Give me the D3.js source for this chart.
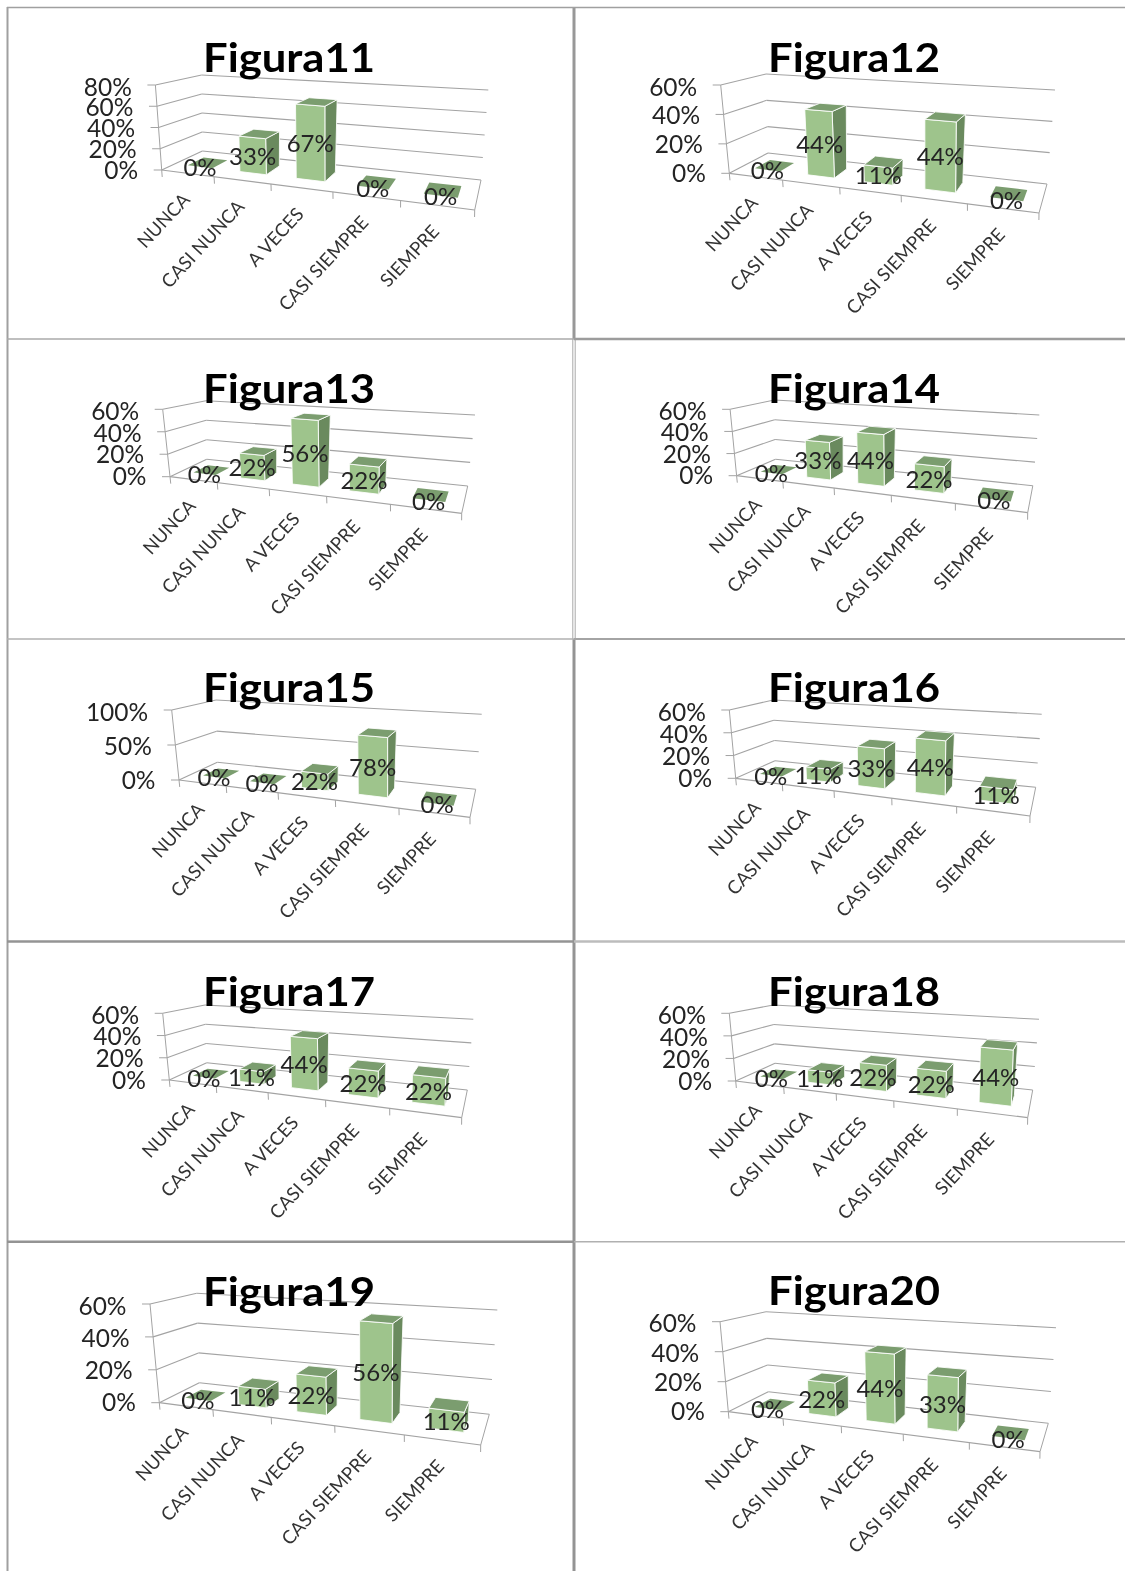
<!DOCTYPE html>
<html><head><meta charset="utf-8">
<script src="https://cdn.jsdelivr.net/npm/d3@7"></script>
<style>
html,body{margin:0;padding:0;background:#fff}
svg{display:block;filter:blur(0.45px)}
text{font-family:Lato,"Open Sans",sans-serif}
</style></head><body><div id="c"></div>
<script>
const categories = ["NUNCA","CASI NUNCA","A VECES","CASI SIEMPRE","SIEMPRE"];
const figura11 = [0,33,67,0,0];
const figura12 = [0,44,11,44,0];
const figura13 = [0,22,56,22,0];
const figura14 = [0,33,44,22,0];
const figura15 = [0,0,22,78,0];
const figura16 = [0,11,33,44,11];
const figura17 = [0,11,44,22,22];
const figura18 = [0,11,22,22,44];
const figura19 = [0,11,22,56,11];
const figura20 = [0,22,44,33,0];
const ticks80 = [0,20,40,60,80];
const ticks60 = [0,20,40,60];
const ticks100 = [0,50,100];

// frame corners of each picture of a 3-D chart (A front-left, B back-left, C front-right, D back-right, T* wall tops)
const panels = [
 {t:"Figura11",v:figura11,yt:ticks80, k:.06, tx:289,ty:72, A:[161.7,170],TA:[155.4,85],B:[202.4,151],TB:[201.6,75],D:[481,180],TD:[488.3,90],C:[474.7,210]},
 {t:"Figura12",v:figura12,yt:ticks60, k:.01, tx:854,ty:72, A:[729.3,173.3],TA:[720.7,85],B:[768,153],TB:[766,74],D:[1047,184],TD:[1055,90],C:[1039,213]},
 {t:"Figura13",v:figura13,yt:ticks60, k:.02, tx:289,ty:403, A:[170,476.7],TA:[162.7,409.3],B:[206.7,459.3],TB:[206,400.7],D:[467.7,486],TD:[475,415],C:[461.7,513.3]},
 {t:"Figura14",v:figura14,yt:ticks60, k:.02, tx:854,ty:403, A:[736.6,475.7],TA:[730.1,409.3],B:[775.5,459.3],TB:[774.4,400],D:[1032.8,485.7],TD:[1039.3,415],C:[1027.7,512.7]},
 {t:"Figura15",v:figura15,yt:ticks100,k:.02, tx:289,ty:702, A:[179,780],TA:[171.7,710],B:[217.3,762.3],TB:[216,700],D:[475.7,789.3],TD:[481.7,714.3],C:[470,817.3]},
 {t:"Figura16",v:figura16,yt:ticks60, k:.02, tx:854,ty:702, A:[735.7,778.3],TA:[729.3,710],B:[775,760.7],TB:[773.3,700],D:[1035.7,787.3],TD:[1041.7,714.3],C:[1030,816]},
 {t:"Figura17",v:figura17,yt:ticks60, k:.02, tx:289,ty:1006, A:[169.3,1080],TA:[162.7,1013.3],B:[206.7,1062.7],TB:[205,1005],D:[467.3,1090],TD:[473.3,1019.3],C:[461.7,1117.7]},
 {t:"Figura18",v:figura18,yt:ticks60, k:.02, tx:854,ty:1006, A:[735.7,1081],TA:[729.3,1013.3],B:[775,1063.3],TB:[773.3,1005],D:[1032.7,1090],TD:[1039,1019.3],C:[1027.7,1117.7]},
 {t:"Figura19",v:figura19,yt:ticks60, k:.04, tx:289,ty:1306, A:[159.3,1402.7],TA:[150,1304],B:[199.3,1382.7],TB:[196.7,1293.3],D:[489.3,1414.3],TD:[497.3,1310],C:[480.7,1445]},
 {t:"Figura20",v:figura20,yt:ticks60, k:.02, tx:854,ty:1305, A:[728.3,1411.7],TA:[720,1321.7],B:[768.3,1391.7],TB:[766,1311.7],D:[1048.3,1423.3],TD:[1056,1327.7],C:[1040,1451.7]}
];

const W=1125,H=1571;
const svg=d3.select("#c").append("svg").attr("width",W).attr("height",H).attr("viewBox",[0,0,W,H]);
const GRID="#a3a3a3";
const FRONT="#9ec48c", SIDE="#6a8a5e", TOP="#7b9d6f", TXT="#242424";

// table rules
const border=svg.append("g").attr("fill","none");
[[7.5,7,7.5,H,2,"#a0a0a0"],[574,7,574,339,3,"#989898"],[572.8,339,572.8,639,1,"#a8a8a8"],[575.2,339,575.2,639,1,"#a8a8a8"],[574,639,574,H,3,"#949494"],
 [7,7.5,W,7.5,1.5,"#a0a0a0"],
 [7,339,574,339,1.5,"#aaaaaa"],[574,339,W,339,2.5,"#9c9c9c"],
 [7,639,574,639,1.5,"#b0b0b0"],[574,639,W,639,2,"#a4a4a4"],
 [7,941.5,574,941.5,2.5,"#949494"],[574,941.5,W,941.5,2.5,"#bcbcbc"],
 [7,1241.7,574,1241.7,2.5,"#949494"],[574,1241.7,W,1241.7,1.5,"#b0b0b0"]]
 .forEach(l=>border.append("line").attr("x1",l[0]).attr("y1",l[1]).attr("x2",l[2]).attr("y2",l[3]).attr("stroke-width",l[4]).attr("stroke",l[5]));

function makeProjector(p){
  const [A,B,C,D]=[p.A,p.B,p.C,p.D];
  const dx3=A[0]-C[0]+D[0]-B[0], dy3=A[1]-C[1]+D[1]-B[1];
  const dx1=C[0]-D[0], dx2=B[0]-D[0], dy1=C[1]-D[1], dy2=B[1]-D[1];
  const det=dx1*dy2-dx2*dy1;
  const g=(dx3*dy2-dx2*dy3)/det, h=(dx1*dy3-dx3*dy1)/det;
  const a=C[0]-A[0]+g*C[0], b=B[0]-A[0]+h*B[0], d=C[1]-A[1]+g*C[1], e=B[1]-A[1]+h*B[1];
  const vA=[p.TA[0]-A[0],p.TA[1]-A[1]], vB=[p.TB[0]-B[0],p.TB[1]-B[1]], vD=[p.TD[0]-D[0],p.TD[1]-D[1]];
  const vC=[vD[0]+vA[0]-vB[0],vD[1]+vA[1]-vB[1]];
  return (u0,v,t)=>{
    const u=u0+p.k*u0*(1-u0);
    const w=g*u+h*v+1;
    const x=(a*u+b*v+A[0])/w, y=(d*u+e*v+A[1])/w;
    const mix=i=>(1-u)*(1-v)*vA[i]+u*(1-v)*vC[i]+(1-u)*v*vB[i]+u*v*vD[i];
    return [x+mix(0)*t,y+mix(1)*t];
  };
}
const line=d3.line();
const BAR=0.48, V0=0.3, V1=0.7;

panels.forEach(p=>{
  const P=makeProjector(p);
  const g=svg.append("g");
  const x=d3.scaleBand().domain(categories).range([0,1]);
  const y=d3.scaleLinear().domain([0,d3.max(p.yt)]).range([0,1]);
  const seg=(a,b,sw=1)=>g.append("path").attr("d",line([a,b])).attr("fill","none").attr("stroke",GRID).attr("stroke-width",sw);

  // walls and grid
  p.yt.forEach(t=>{
    const h=y(t);
    seg(P(0,0,h),P(0,1,h),1.1);
    seg(P(0,1,h),P(1,1,h),1.1);
    const a=P(0,0,h);
    seg([a[0]-8,a[1]],a,1);
    g.append("text").attr("x",a[0]-23.5).attr("y",a[1]+1-2*(1-h)).attr("text-anchor","end")
     .attr("dominant-baseline","central").attr("font-size",24.5).attr("fill",TXT).text(t+"%");
  });
  seg(P(0,0,0),P(0,0,1));
  seg(P(0,0,0),P(1,0,0),1.2);
  seg(P(1,0,0),P(1,1,0));
  // category ticks
  [0,.2,.4,.6,.8,1].forEach(u=>{
    const a=P(u,0,0), up=P(u,0,1);
    const len=Math.hypot(up[0]-a[0],up[1]-a[1]);
    seg(a,[a[0]-(up[0]-a[0])/len*7,a[1]-(up[1]-a[1])/len*7]);
  });
  // category labels
  categories.forEach(c=>{
    const u=x(c)+x.bandwidth()/2, a=P(u,0,0);
    g.append("text").attr("transform",`translate(${a[0]-1.5},${a[1]+22.5}) rotate(-47)`)
     .attr("text-anchor","end").attr("dominant-baseline","central").attr("font-size",18.5).attr("fill","#333").text(c);
  });
  // bars
  categories.forEach((c,i)=>{
    const val=p.v[i], u0=x(c)+x.bandwidth()*(1-BAR)/2, u1=u0+x.bandwidth()*BAR, h=y(val);
    const poly=(pts,f,st)=>g.append("path").attr("d",line(pts)+"Z").attr("fill",f)
      .attr("stroke",st?"#fff":"none").attr("stroke-width",st?1:0).attr("stroke-opacity",.85).attr("stroke-linejoin","round");
    if(val>0){
      poly([P(u1,V0,0),P(u1,V1,0),P(u1,V1,h),P(u1,V0,h)],SIDE,true);
      poly([P(u0,V0,0),P(u1,V0,0),P(u1,V0,h),P(u0,V0,h)],FRONT,true);
    }
    poly([P(u0,V0,h),P(u1,V0,h),P(u1,V1,h),P(u0,V1,h)],TOP,val>0);
  });
  // data labels
  categories.forEach((c,i)=>{
    const val=p.v[i], um=x(c)+x.bandwidth()/2, a=P(um,.3,y(val)/2);
    g.append("text").attr("x",a[0]).attr("y",a[1]).attr("text-anchor","middle").attr("dominant-baseline","central")
     .attr("font-size",24).attr("fill",TXT).text(val+"%");
  });
  g.append("text").attr("x",p.tx).attr("y",p.ty).attr("text-anchor","middle").attr("font-size",41).attr("font-weight",700)
   .attr("textLength",172).attr("lengthAdjust","spacingAndGlyphs").attr("fill","#000").text(p.t);
});
</script></body></html>
